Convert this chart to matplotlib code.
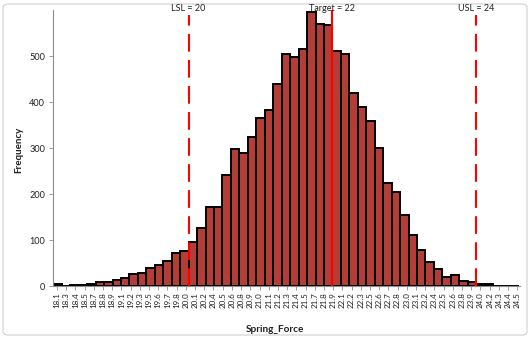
import matplotlib

matplotlib.use("Agg")
import matplotlib.pyplot as plt
import numpy as np
from matplotlib.patches import FancyBboxPatch

plt.rcParams["font.family"] = ["Lato", "DejaVu Sans"]

# spec limits
LSL, TARGET, USL = 20, 22, 24

# histogram bins: 17 bins between LSL and target
bin_start = 18.118
bin_width = (TARGET - LSL) / 17
counts = [
    4, 0, 2, 3, 5, 9, 9, 13, 18, 26, 28, 40, 46, 55, 73, 76, 97, 126, 172,
    172, 242, 298, 290, 325, 365, 383, 439, 505, 498, 516, 596, 570, 568,
    512, 504, 421, 390, 360, 300, 224, 206, 155, 112, 79, 52, 38, 21, 25,
    12, 9, 6, 5, 0, 1, 1,
]

# category labels printed along the x axis
tick_labels = [
    "18.1", "18.3", "18.4", "18.5", "18.7", "18.8", "18.9", "19.1", "19.2",
    "19.3", "19.5", "19.6", "19.7", "19.8", "20.0", "20.1", "20.2", "20.4",
    "20.5", "20.6", "20.8", "20.9", "21.0", "21.1", "21.2", "21.3", "21.4",
    "21.5", "21.7", "21.8", "21.9", "22.1", "22.2", "22.3", "22.5", "22.6",
    "22.7", "22.8", "23.0", "23.1", "23.2", "23.4", "23.5", "23.6", "23.8",
    "23.9", "24.0", "24.2", "24.3", "24.4", "24.5",
]

W, H = 530, 338
fig = plt.figure(figsize=(W / 100, H / 100), dpi=100)

# chart frame, kept behind the axes
frame = FancyBboxPatch(
    (3 / W, 3 / H), 524 / W, 331 / H,
    boxstyle="round,pad=0,rounding_size=0.01",
    transform=fig.transFigure, facecolor="white",
    edgecolor="#d0d0d0", linewidth=0.8, zorder=-5,
)
fig.patches.append(frame)

ax = fig.add_axes([53.3 / W, (H - 286.3) / H, (520 - 53.3) / W, (286.3 - 10.3) / H])
ax.set_facecolor("none")
ax.set_zorder(1)

centers = bin_start + bin_width * (np.arange(len(counts)) + 0.5)
ax.bar(centers, counts, width=bin_width, color="#b33d37",
       edgecolor="black", linewidth=1.4, zorder=2)

# spec lines
ax.vlines([LSL, USL], 0, 590, colors="#ff0000", linestyles=[(0, (8.5, 4))],
          linewidth=1.5, zorder=3)
ax.vlines([TARGET], 0, 600, colors="#ff0000", linewidth=1.5, zorder=3)
for x, txt in [(LSL, f"LSL = {LSL}"), (TARGET, f"Target = {TARGET}"),
               (USL, f"USL = {USL}")]:
    ax.text(x, 605, txt, ha="center", va="center", fontsize=6.5,
            color="#202020", clip_on=False, zorder=4)

ax.set_xlim(bin_start, 24.609)
ax.set_ylim(0, 600)
ax.set_yticks([0, 100, 200, 300, 400, 500])
ax.set_xticks(np.linspace(18.17, 24.57, len(tick_labels)))
ax.set_xticklabels(tick_labels, rotation=90)

for side in ("top", "right"):
    ax.spines[side].set_visible(False)
for side in ("left", "bottom"):
    ax.spines[side].set_color("#8c8c8c")
    ax.spines[side].set_linewidth(0.8)
ax.tick_params(axis="y", length=3, width=0.6, color="#8c8c8c",
               labelsize=6.6, pad=3, labelcolor="#202020")
ax.tick_params(axis="x", length=3, width=0.6, color="#8c8c8c",
               labelsize=5.8, pad=1.5, labelcolor="#202020")

fig.text(19 / W, 1 - 150 / H, "Frequency", rotation=90, ha="center",
         va="center", fontsize=7, fontweight="bold", color="#202020")
fig.text(275 / W, 1 - 329 / H, "Spring_Force", ha="center", va="center",
         fontsize=7.2, fontweight="bold", color="#202020")

fig.savefig("out.png", dpi=100)
